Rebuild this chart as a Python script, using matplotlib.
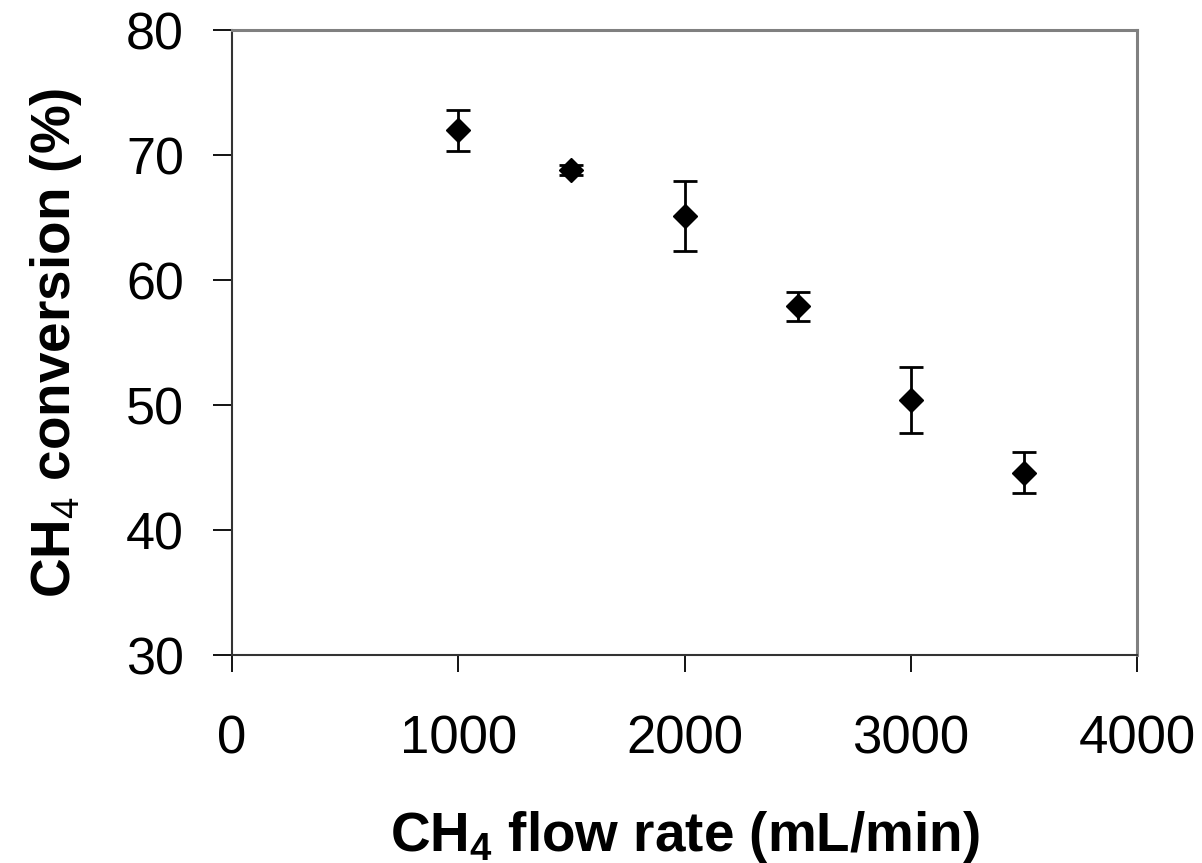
#!/usr/bin/env python3
"""CH4 conversion versus CH4 flow rate with error bars."""

import matplotlib as mpl
import matplotlib.pyplot as plt

FLOW_RATE = [1000, 1500, 2000, 2500, 3000, 3500]
CONVERSION = [72.0, 68.8, 65.1, 57.9, 50.4, 44.6]
ERROR = [1.65, 0.4, 2.8, 1.15, 2.65, 1.65]
X_TICKS = [0, 1000, 2000, 3000, 4000]
Y_TICKS = [30, 40, 50, 60, 70, 80]

mpl.rcParams.update(
    {
        "font.family": ["Liberation Sans", "DejaVu Sans"],
        "mathtext.fontset": "custom",
        "mathtext.rm": "Liberation Sans",
        "mathtext.bf": "Liberation Sans:bold",
    }
)

fig = plt.figure(figsize=(12.02, 8.63), dpi=100)
ax = fig.add_axes([0.193, 0.241, 0.753, 0.724])

ax.errorbar(
    FLOW_RATE,
    CONVERSION,
    yerr=ERROR,
    fmt="D",
    color="black",
    markersize=12.5,
    elinewidth=2.0,
    capsize=8.3,
    capthick=2.0,
)

ax.set_xlim(0, 4000)
ax.set_ylim(30, 80)
ax.set_xticks(X_TICKS)
ax.set_yticks(Y_TICKS)
ax.tick_params(axis="x", direction="out", length=12, width=1.3, pad=31, labelsize=38)
ax.tick_params(axis="y", direction="out", length=13.5, width=1.3, pad=21, labelsize=37.5)

for side in ("left", "bottom"):
    ax.spines[side].set_color("#333333")
    ax.spines[side].set_linewidth(1.5)
for side in ("top", "right"):
    ax.spines[side].set_color("#808080")
    ax.spines[side].set_linewidth(2.2)

ax.set_xlabel(r"CH$_\mathbf{4}$ flow rate (mL/min)", fontsize=39.5, fontweight="bold", labelpad=32)
ax.set_ylabel(r"CH$_\mathrm{4}$ conversion (%)", fontsize=39.5, fontweight="bold", labelpad=30)

fig.savefig("out.png", dpi=100)
